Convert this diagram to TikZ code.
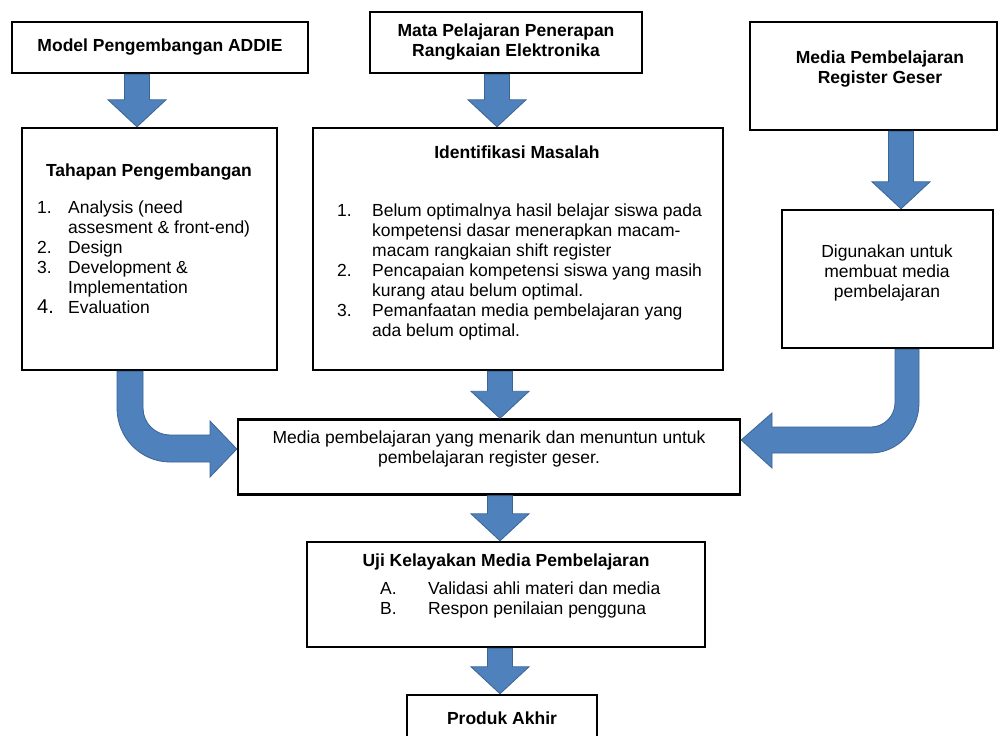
\documentclass[tikz,border=0pt]{standalone}
\usepackage{fontspec}
\setmainfont{Liberation Sans}
\usetikzlibrary{calc,positioning}
\definecolor{arrowblue}{HTML}{4F81BD}
\definecolor{arrowedge}{HTML}{3B6593}

% block arrow pointing down: x position, from node, to node
\newcommand{\blockdown}[3]{%
  \path[blockarrow] let \p1=(#2.south), \p2=(#3.north) in
    ({#1pt-12.5pt},\y1) -- ({#1pt+12.5pt},\y1) -- ({#1pt+12.5pt},\y2+27pt)
    -- ({#1pt+29pt},\y2+27pt) -- (#1pt,\y2) -- ({#1pt-29pt},\y2+27pt)
    -- ({#1pt-12.5pt},\y2+27pt) -- cycle;}

\begin{document}
\begin{tikzpicture}[
    x=1pt, y=-1pt,
    box/.style={rectangle, draw, line width=2.4pt, fill=white, inner sep=0pt, align=center, font=\fontsize{17.5}{20}\selectfont},
    boldbox/.style={box, font=\fontsize{17.5}{20}\selectfont\bfseries},
    txt/.style={inner sep=0pt, align=center, font=\fontsize{17.5}{20}\selectfont},
    head/.style={txt, font=\fontsize{17.5}{20}\selectfont\bfseries},
    blockarrow/.style={fill=arrowblue, draw=arrowedge, line width=0.8pt}
]
    \fill[white] (0,0) rectangle (1001,736);
    \useasboundingbox (0,0) rectangle (1001,736);

    % top row
    \node[boldbox, minimum width=296, minimum height=51] (addie) at (160,47.5) {Model Pengembangan ADDIE};
    \node[boldbox, minimum width=272, minimum height=61] (mapel) at (506,42.5) {Mata Pelajaran Penerapan\\Rangkaian Elektronika};
    \node[box, minimum width=247, minimum height=108] (medreg) at (873.5,76) {};
    \node[head] (medreg-t) at (880,69) {Media Pembelajaran\\Register Geser};

    % second row
    \node[box, minimum width=255, minimum height=242] (tahap) at (149.5,249) {};
    \node[head] (tahap-t) at (149,172) {Tahapan Pengembangan};
    \node[txt, anchor=north west, align=left] (tahap-l) at (37,199) {%
        \begin{tabular}{@{}p{31pt}@{}l@{}}
        1. & Analysis (need\\
           & assesment \& front-end)\\
        2. & Design\\
        3. & Development \&\\
           & Implementation\\
        {\fontsize{20}{20}\selectfont 4.} & Evaluation
        \end{tabular}};

    \node[box, minimum width=410, minimum height=242] (masalah) at (518,249) {};
    \node[head] (masalah-t) at (517,152) {Identifikasi Masalah};
    \node[txt, anchor=north west, align=left] (masalah-l) at (337,202) {%
        \begin{tabular}{@{}p{35pt}@{}l@{}}
        1. & Belum optimalnya hasil belajar siswa pada\\
           & kompetensi dasar menerapkan macam-\\
           & macam rangkaian shift register\\
        2. & Pencapaian kompetensi siswa yang masih\\
           & kurang atau belum optimal.\\
        3. & Pemanfaatan media pembelajaran yang\\
           & ada belum optimal.
        \end{tabular}};

    \node[box, minimum width=211, minimum height=138] (guna) at (887.5,279) {};
    \node[txt] (guna-t) at (887,273) {Digunakan untuk\\membuat media\\pembelajaran};

    % lower part
    \node[box, minimum width=502, minimum height=75] (media) at (489,457) {};
    \node[txt] (media-t) at (489,449) {Media pembelajaran yang menarik dan menuntun untuk\\pembelajaran register geser.};

    \node[box, minimum width=398, minimum height=105] (uji) at (506,594.5) {};
    \node[head] (uji-t) at (506,562) {Uji Kelayakan Media Pembelajaran};
    \node[txt, anchor=north west, align=left] (uji-l) at (380,580) {%
        \begin{tabular}{@{}p{48pt}@{}l@{}}
        A. & Validasi ahli materi dan media\\
        B. & Respon penilaian pengguna
        \end{tabular}};

    \node[boldbox, minimum width=190, minimum height=46] (produk) at (502,718) {Produk Akhir};

    % straight block arrows
    \blockdown{137}{addie}{tahap}
    \blockdown{497}{mapel}{masalah}
    \blockdown{901}{medreg}{guna}
    \blockdown{500}{masalah}{media}
    \blockdown{500}{media}{uji}
    \blockdown{500}{uji}{produk}

    % bent block arrows
    \path[blockarrow] (117,0 |- tahap.south) -- (117,408)
        .. controls (117,438) and (141,462) .. (170,462) -- (210,462) -- (210,477)
        -- (media.west |- 0,449) -- (210,421) -- (210,435) -- (170,435)
        .. controls (155,435) and (143,423) .. (143,408) -- (143,0 |- tahap.south) -- cycle;
    \path[blockarrow] (895,0 |- guna.south) -- (895,403)
        .. controls (895,416) and (884,427) .. (871,427) -- (772,427) -- (772,413)
        -- (media.east |- 0,440) -- (772,468) -- (772,453) -- (871,453)
        .. controls (897,453) and (919,431) .. (919,403) -- (919,0 |- guna.south) -- cycle;
\end{tikzpicture}
\end{document}
